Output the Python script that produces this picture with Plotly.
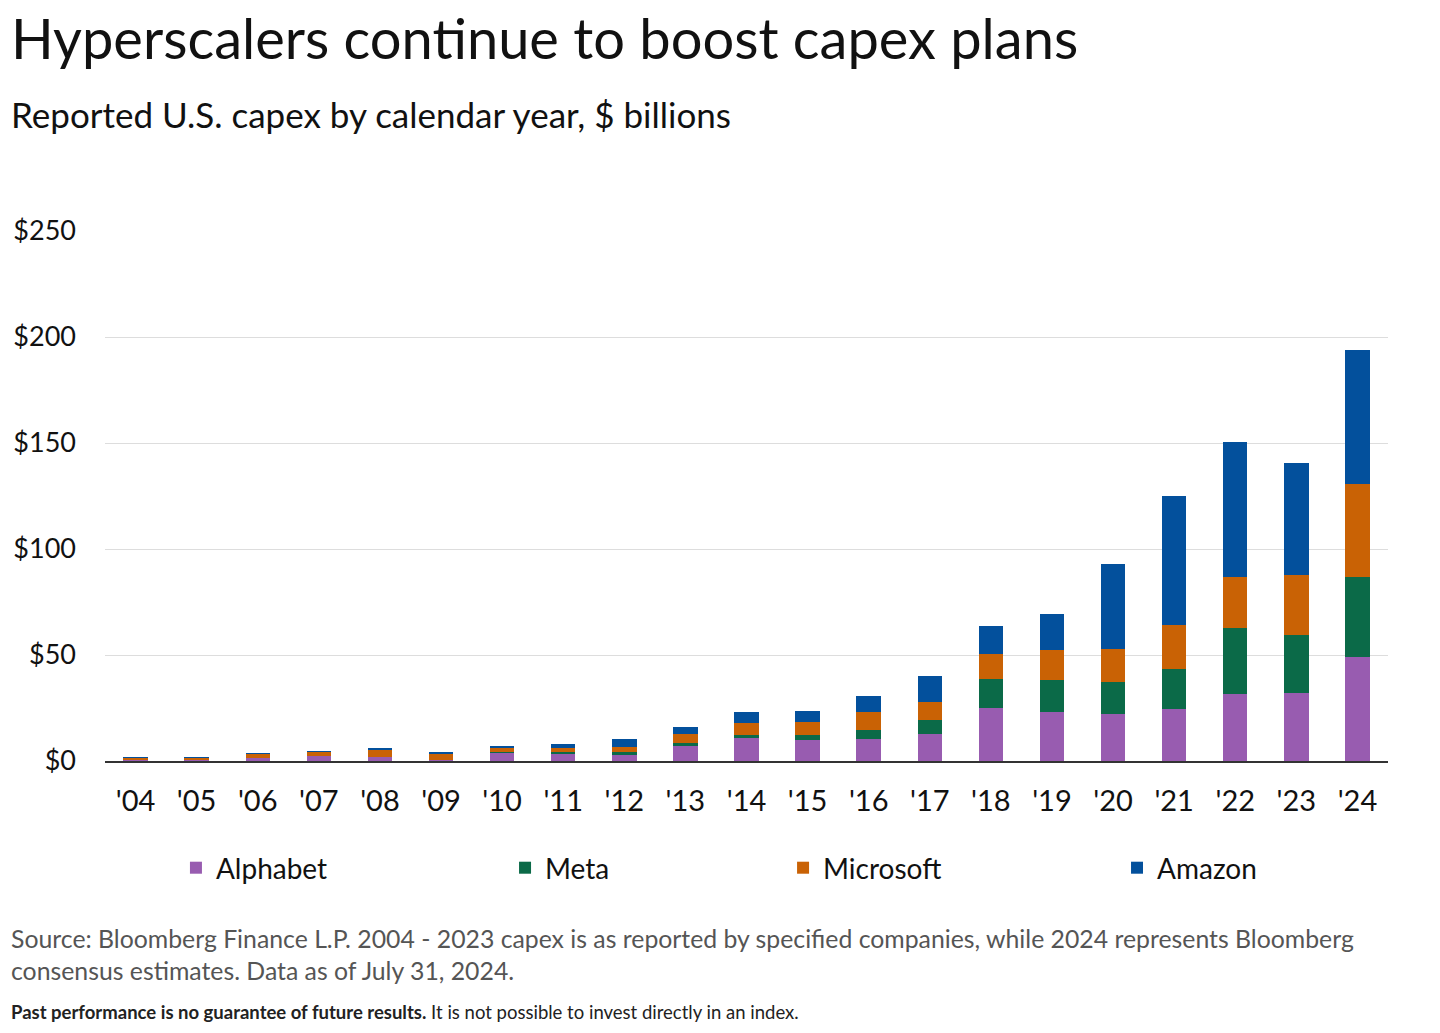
import plotly.graph_objects as go

# Reported U.S. capex by calendar year, $ billions
years = ["'04", "'05", "'06", "'07", "'08", "'09", "'10", "'11", "'12", "'13", "'14",
         "'15", "'16", "'17", "'18", "'19", "'20", "'21", "'22", "'23", "'24"]
alphabet = [0.3, 0.8, 1.3, 2.4, 1.9, 0.3, 3.9, 3.6, 3.0, 7.2, 11.0,
            9.9, 10.2, 12.7, 25.0, 23.3, 22.0, 24.4, 31.4, 32.1, 49.1]
meta = [0.0, 0.0, 0.0, 0.0, 0.0, 0.0, 0.3, 0.5, 1.4, 1.1, 1.4,
        2.2, 4.3, 6.8, 13.7, 15.1, 15.1, 18.8, 31.3, 27.3, 37.5]
microsoft = [1.2, 0.8, 2.1, 1.9, 3.5, 3.4, 2.0, 2.0, 2.4, 4.4, 5.7,
             6.1, 8.6, 8.2, 11.8, 14.0, 15.7, 20.8, 23.9, 28.2, 43.9]
amazon = [0.1, 0.2, 0.2, 0.4, 0.3, 0.4, 1.0, 2.1, 3.6, 3.5, 4.9,
          5.5, 7.6, 12.2, 13.3, 16.9, 40.1, 60.8, 63.9, 52.8, 63.2]
y_ticks = [0, 50, 100, 150, 200, 250]

# name, values, colour, legend id, legend x (paper)
series = [
    ("Alphabet", alphabet, "#985CB0", "legend", 0.0553),
    ("Meta", meta, "#0B6A48", "legend2", 0.3118),
    ("Microsoft", microsoft, "#C96205", "legend3", 0.5285),
    ("Amazon", amazon, "#03509C", "legend4", 0.7888),
]

FONT = "Lato, 'Noto Sans', sans-serif"
TEXT_X = -0.0745

fig = go.Figure()
for name, vals, color, leg, _ in series:
    fig.add_trace(go.Bar(
        x=years, y=vals, name=name, legend=leg,
        marker=dict(color=color, line=dict(width=0)),
    ))

# one legend per company so the spacing matches the original
legends = {}
for name, vals, color, leg, lx in series:
    legends[leg] = dict(
        orientation="h", x=lx, xanchor="left", y=-0.2019, yanchor="middle",
        font=dict(size=28, color="#111111", family=FONT),
        bgcolor="rgba(0,0,0,0)", itemclick=False,
    )

fig.update_layout(
    barmode="stack",
    bargap=0.6,
    width=1432, height=1025,
    margin=dict(l=97, r=52, t=223, b=272),
    plot_bgcolor="white", paper_bgcolor="white",
    font=dict(family=FONT, color="#111111"),
    showlegend=True,
    xaxis=dict(
        showgrid=False, showline=True, linecolor="#333333", linewidth=2,
        ticks="", tickfont=dict(size=29, color="#111111"),
        ticklabelstandoff=13, automargin=False,
    ),
    yaxis=dict(
        range=[0, 250], tickvals=y_ticks,
        ticktext=["$" + str(v) for v in y_ticks],
        showgrid=True, gridcolor="#DDDDDD", gridwidth=1,
        zeroline=False, showline=False, ticks="",
        tickfont=dict(size=27, color="#111111"),
        ticklabelstandoff=28, automargin=False,
    ),
    **legends,
)

# Title and subtitle
fig.add_annotation(text="Hyperscalers continue to boost capex plans",
                   xref="paper", yref="paper", x=TEXT_X, y=1.366,
                   xanchor="left", yanchor="middle", showarrow=False,
                   font=dict(size=56, color="#111111", family=FONT))
fig.add_annotation(text="Reported U.S. capex by calendar year, $ billions",
                   xref="paper", yref="paper", x=TEXT_X, y=1.2208,
                   xanchor="left", yanchor="middle", showarrow=False,
                   font=dict(size=35, color="#111111", family=FONT))

# Footnotes
fig.add_annotation(text="Source: Bloomberg Finance L.P. 2004 - 2023 capex is as reported by specified companies, "
                        "while 2024 represents Bloomberg<br>consensus estimates. Data as of July 31, 2024.",
                   xref="paper", yref="paper", x=TEXT_X, y=-0.366,
                   xanchor="left", yanchor="middle", align="left", showarrow=False,
                   font=dict(size=24.8, color="#555555", family=FONT))
fig.add_annotation(text="<b>Past performance is no guarantee of future results.</b> "
                        "It is not possible to invest directly in an index.",
                   xref="paper", yref="paper", x=TEXT_X, y=-0.4736,
                   xanchor="left", yanchor="middle", align="left", showarrow=False,
                   font=dict(size=18.5, color="#222222", family=FONT))

fig.write_html("out.html")
